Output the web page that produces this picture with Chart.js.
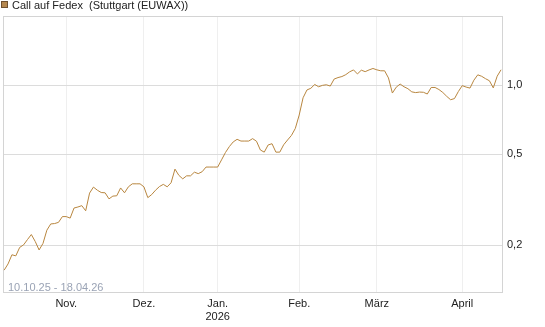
<!DOCTYPE html>
<html>
<head>
<meta charset="utf-8">
<script src="https://cdn.jsdelivr.net/npm/chart.js@4.4.1/dist/chart.umd.min.js"></script>
<style>
html,body{margin:0;padding:0;background:#fff;}
#wrap{width:545px;height:327px;position:relative;}
</style>
</head>
<body>
<div id="wrap"><canvas id="c" width="545" height="327"></canvas></div>
<script>
// Trading-day prices, 10.10.25 - 17.04.26 (index = trading day)
const seriesName = 'Call auf Fedex  (Stuttgart (EUWAX))';
const dateRange = '10.10.25 - 18.04.26';
const prices = [
  0.156,0.166,0.182,0.180,0.196,0.201,0.212,0.223,0.208,0.191,
  0.204,0.233,0.248,0.249,0.252,0.267,0.267,0.263,0.291,0.294,
  0.298,0.283,0.338,0.359,0.348,0.340,0.339,0.319,0.328,0.329,
  0.356,0.339,0.360,0.371,0.371,0.371,0.360,0.323,0.333,0.348,
  0.361,0.369,0.360,0.375,0.430,0.404,0.390,0.402,0.402,0.417,
  0.411,0.419,0.439,0.439,0.439,0.439,0.472,0.508,0.539,0.565,
  0.580,0.570,0.570,0.570,0.584,0.569,0.521,0.510,0.548,0.555,
  0.510,0.510,0.549,0.576,0.603,0.647,0.740,0.880,0.952,0.968,
  1.006,0.983,0.997,1.003,0.990,1.062,1.078,1.089,1.110,1.142,
  1.164,1.118,1.161,1.144,1.164,1.181,1.165,1.154,1.154,1.074,
  0.923,0.979,1.010,0.983,0.964,0.934,0.927,0.932,0.930,0.914,
  0.976,0.976,0.956,0.928,0.893,0.863,0.873,0.937,0.994,0.980,
  0.970,1.050,1.108,1.092,1.066,1.044,0.972,1.093,1.166
];
// first trading day of each month (index) and its label
const monthTickIdx = [16, 36, 55, 76, 96, 118];
const monthLabels = [['Nov.'], ['Dez.'], ['Jan.', '2026'], ['Feb.'], ['März'], ['April']];
const yTicks = [0.2, 0.5, 1.0];
const yMin = 0.124, yMax = 2.0;

const lineColor = '#b8863f';
const points = prices.map((v, i) => ({x: i, y: v}));

const framePlugin = {
  id: 'frame',
  beforeDatasetsDraw(chart) {
    const {ctx, chartArea: a} = chart;
    ctx.save();
    ctx.strokeStyle = '#d4d4d4';
    ctx.lineWidth = 1;
    ctx.strokeRect(Math.round(a.left) + 0.5, Math.round(a.top) + 0.5,
                   Math.round(a.right - a.left) - 1, Math.round(a.bottom - a.top) - 1);
    ctx.restore();
  },
  afterDraw(chart) {
    const {ctx, chartArea: a} = chart;
    ctx.save();
    // legend
    ctx.fillStyle = '#b5884f';
    ctx.fillRect(1, 1, 7, 7);
    ctx.strokeStyle = '#6e5030';
    ctx.lineWidth = 1;
    ctx.strokeRect(1.5, 1.5, 6, 6);
    ctx.fillStyle = '#222';
    ctx.font = '11px "Liberation Sans", Arial, sans-serif';
    ctx.textBaseline = 'middle';
    ctx.textAlign = 'left';
    ctx.fillText(seriesName, 12, 5.5);
    // date range
    ctx.fillStyle = '#9aa3b5';
    ctx.textBaseline = 'alphabetic';
    ctx.fillText(dateRange, a.left + 5, a.bottom - 2);
    ctx.restore();
  }
};

new Chart(document.getElementById('c'), {
  type: 'line',
  data: {
    datasets: [{
      label: seriesName,
      data: points,
      borderColor: lineColor,
      borderWidth: 1,
      pointRadius: 0,
      tension: 0,
      fill: false
    }]
  },
  options: {
    responsive: false,
    animation: false,
    devicePixelRatio: 1,
    layout: {padding: {top: 16, left: 3, right: 0, bottom: 0}},
    plugins: {legend: {display: false}, tooltip: {enabled: false}},
    scales: {
      x: {
        type: 'linear',
        min: -0.3,
        max: 128.5,
        afterBuildTicks(s) { s.ticks = monthTickIdx.map(v => ({value: v})); },
        afterFit(s) { s.height = 34; },
        ticks: {
          autoSkip: false, maxRotation: 0, padding: 4,
          color: '#222',
          font: {family: '"Liberation Sans", Arial, sans-serif', size: 11},
          callback(v) { const k = monthTickIdx.indexOf(v); return k >= 0 ? monthLabels[k] : ''; }
        },
        grid: {color: '#efefef', drawTicks: false, lineWidth: 1},
        border: {display: false}
      },
      y: {
        type: 'logarithmic',
        position: 'right',
        min: yMin,
        max: yMax,
        afterBuildTicks(s) { s.ticks = yTicks.map(v => ({value: v})); },
        afterFit(s) { s.width = 42; },
        ticks: {
          padding: 4,
          color: '#222',
          font: {family: '"Liberation Sans", Arial, sans-serif', size: 11},
          callback(v) { return Number(v).toFixed(1).replace('.', ','); }
        },
        grid: {color: '#dcdcdc', drawTicks: false, lineWidth: 1},
        border: {display: false}
      }
    }
  },
  plugins: [framePlugin]
});
</script>
</body>
</html>
